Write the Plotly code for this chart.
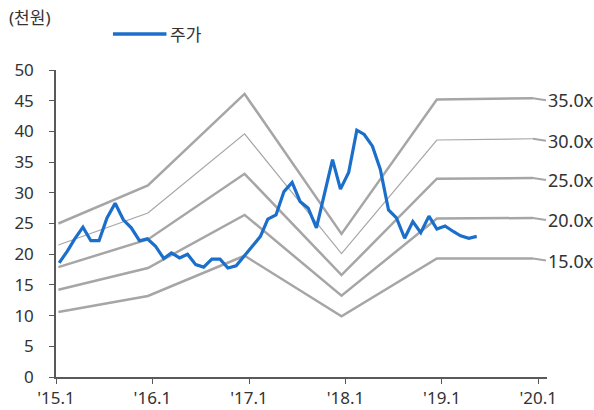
import plotly.graph_objects as go
import pandas as pd

# Stock price (천원), monthly Jan 2015 - May 2019
price_dates = pd.date_range("2015-01-01", periods=53, freq="MS") + pd.Timedelta(days=12)
price = [18.6, 20.5, 22.5, 24.4, 22.2, 22.2, 25.9, 28.3, 25.6, 24.3, 22.2, 22.5,
         21.3, 19.3, 20.2, 19.4, 20.0, 18.3, 17.9, 19.2, 19.2, 17.75, 18.1, 19.6,
         21.2, 22.9, 25.7, 26.4, 30.2, 31.7, 28.6, 27.5, 24.3, 29.5, 35.4, 30.6,
         33.3, 40.2, 39.5, 37.6, 33.8, 27.2, 25.9, 22.6, 25.3, 23.5, 26.2, 24.1,
         24.6, 23.7, 23.0, 22.6, 22.9]

# PER band lines
band_dates = ["2015-01-10", "2015-12-15", "2016-12-15", "2017-12-17", "2018-12-13", "2019-12-12"]
band_labels = ["35.0x", "30.0x", "25.0x", "20.0x", "15.0x"]
band_values = {
    "35.0x": [25.0, 31.2, 46.1, 23.3, 45.2, 45.4],
    "30.0x": [21.5, 26.7, 39.6, 20.1, 38.6, 38.8],
    "25.0x": [17.9, 22.4, 33.1, 16.6, 32.3, 32.4],
    "20.0x": [14.2, 17.75, 26.4, 13.25, 25.8, 25.9],
    "15.0x": [10.6, 13.2, 19.75, 9.9, 19.3, 19.3],
}
band_widths = {"35.0x": 2.5, "30.0x": 1.2, "25.0x": 2.5, "20.0x": 2.5, "15.0x": 2.5}

x_ticks = ["2015-01-01", "2016-01-01", "2017-01-01", "2018-01-01", "2019-01-01", "2020-01-01"]
x_tick_labels = ["'15.1", "'16.1", "'17.1", "'18.1", "'19.1", "'20.1"]
y_ticks = [0, 5, 10, 15, 20, 25, 30, 35, 40, 45, 50]

GRAY = "#a6a6a6"
BLUE = "#1b6fca"
FONT = "Noto Sans, Noto Sans CJK KR"
TXT = "#333333"
AX = "#595959"

fig = go.Figure()
for lab in band_labels:
    fig.add_trace(go.Scatter(x=band_dates, y=band_values[lab], mode="lines",
                             line=dict(color=GRAY, width=band_widths[lab]),
                             showlegend=False, hoverinfo="skip"))
    fig.add_annotation(x=band_dates[-1], y=band_values[lab][-1], text=lab,
                       showarrow=True, arrowhead=0, arrowwidth=2, arrowcolor=GRAY,
                       ax=13, ay=2, xanchor="left", yanchor="middle", standoff=0,
                       font=dict(family=FONT, size=18, color=TXT))

fig.add_trace(go.Scatter(x=price_dates, y=price, mode="lines", name="주가",
                         line=dict(color=BLUE, width=3.2), showlegend=False))

# legend (drawn in paper space)
fig.add_shape(type="line", xref="paper", yref="paper", x0=0.116, x1=0.225,
              y0=1.117, y1=1.117, line=dict(color=BLUE, width=3.5))
fig.add_annotation(text="주가", xref="paper", yref="paper", x=0.228, y=1.117,
                   xanchor="left", yanchor="middle", showarrow=False,
                   font=dict(family=FONT, size=17, color=TXT))

fig.add_annotation(text="(천원)", xref="paper", yref="paper", x=-0.1, y=1.172,
                   xanchor="left", yanchor="middle", showarrow=False,
                   font=dict(family=FONT, size=17, color=TXT))

fig.update_layout(
    width=594, height=410,
    margin=dict(l=56, r=47, t=70, b=33, autoexpand=False),
    plot_bgcolor="white", paper_bgcolor="white",
    font=dict(family=FONT, size=17, color=TXT),
    showlegend=False,
    xaxis=dict(type="date", range=["2015-01-01", "2020-02-03"], tickvals=x_ticks,
               ticktext=x_tick_labels, showgrid=False, showline=True, linecolor=AX,
               linewidth=1.5, ticks="outside", ticklen=5, tickcolor=AX, zeroline=False,
               ticklabelstandoff=0, tickfont=dict(size=17)),
    yaxis=dict(range=[0, 50], tickvals=y_ticks, showgrid=False, showline=True,
               linecolor=AX, linewidth=1.5, ticks="outside", ticklen=5,
               tickcolor=AX, zeroline=False, ticklabelstandoff=12, tickfont=dict(size=17)),
)

fig.write_html("out.html")
